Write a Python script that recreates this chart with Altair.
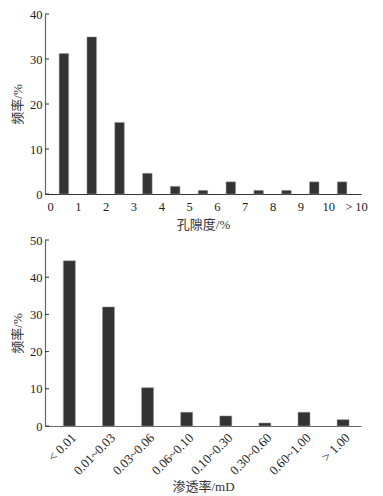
import altair as alt
import pandas as pd

# Top chart: porosity histogram
por_edges = [0, 1, 2, 3, 4, 5, 6, 7, 8, 9, 10]
por_freq = [31.2, 34.9, 15.9, 4.6, 1.7, 0.8, 2.7, 0.8, 0.8, 2.7, 2.7]
por_ticks = [0, 1, 2, 3, 4, 5, 6, 7, 8, 9, 10, 11]
por_last_label = "> 10"

# Bottom chart: permeability histogram
perm_cats = ["< 0.01", "0.01~0.03", "0.03~0.06", "0.06~0.10",
             "0.10~0.30", "0.30~0.60", "0.60~1.00", "> 1.00"]
perm_freq = [44.4, 32.0, 10.3, 3.7, 2.7, 0.8, 3.7, 1.7]

y1_ticks = [0, 10, 20, 30, 40]
y2_ticks = [0, 10, 20, 30, 40, 50]

FONT = "Liberation Serif, Noto Sans CJK SC"
TXT = "#222222"
BAR = "#333333"

df1 = pd.DataFrame({"mid": [e + 0.5 for e in por_edges], "freq": por_freq})
df2 = pd.DataFrame({"idx": list(range(len(perm_cats))), "cat": perm_cats, "freq": perm_freq})
dt1 = pd.DataFrame({"freq": y1_ticks})
dt2 = pd.DataFrame({"freq": y2_ticks})

label_expr1 = f"datum.value == 11 ? '{por_last_label}' : datum.label"
label_expr2 = "[" + ",".join(f"'{c}'" for c in perm_cats) + "][datum.value]"


def yaxis(ticks):
    return alt.Axis(values=ticks, ticks=False, grid=False, labelPadding=3,
                    titlePadding=5, domainColor="#666666", labelOverlap=False)


x1 = alt.X("mid:Q", scale=alt.Scale(domain=[0, 11], nice=False, zero=False),
           axis=alt.Axis(values=por_ticks, labelExpr=label_expr1, labelFlush=False,
                         labelOverlap=False, ticks=False, grid=False, labelPadding=6,
                         titlePadding=6, domainColor="#333333"),
           title="孔隙度/%")
y1 = alt.Y("freq:Q", scale=alt.Scale(domain=[0, 40], nice=False), axis=yaxis(y1_ticks),
           title="频率/%")

bars1 = alt.Chart(df1).mark_bar(size=9.5, color=BAR, stroke="#999999",
                                strokeWidth=0.5).encode(x=x1, y=y1)
ticks1 = alt.Chart(dt1).mark_rule(color="#333333").encode(
    y=y1, x=alt.value(0), x2=alt.value(4))
top = alt.layer(bars1, ticks1).properties(width=316, height=180)

x2 = alt.X("idx:Q", scale=alt.Scale(domain=[-0.495, 7.33], nice=False, zero=False),
           axis=alt.Axis(values=list(range(len(perm_cats))), labelExpr=label_expr2,
                         labelAngle=-45, labelAlign="right", labelBaseline="top",
                         labelFlush=False, labelOverlap=False, ticks=False, grid=False,
                         labelPadding=5, labelFontSize=13, titlePadding=3,
                         domainColor="#666666"),
           title="渗透率/mD")
y2 = alt.Y("freq:Q", scale=alt.Scale(domain=[0, 50], nice=False), axis=yaxis(y2_ticks),
           title="频率/%")
bars2 = alt.Chart(df2).mark_bar(size=12, color=BAR, stroke="#999999",
                                strokeWidth=0.5).encode(x=x2, y=y2)
ticks2 = alt.Chart(dt2).mark_rule(color="#333333").encode(
    y=y2, x=alt.value(0), x2=alt.value(4))
bottom = alt.layer(bars2, ticks2).properties(width=316, height=186)

chart = alt.vconcat(top, bottom, spacing=2).properties(
    padding={"left": 3, "top": 0, "right": 0, "bottom": 0}
).configure_view(stroke=None).configure_axis(
    labelFont=FONT, titleFont=FONT, labelFontSize=12.5, titleFontSize=13,
    labelColor=TXT, titleColor="#333333", titleFontWeight="normal",
    domainWidth=1.2
)

chart.save("out.html", embed_options={"renderer": "svg", "actions": False})
